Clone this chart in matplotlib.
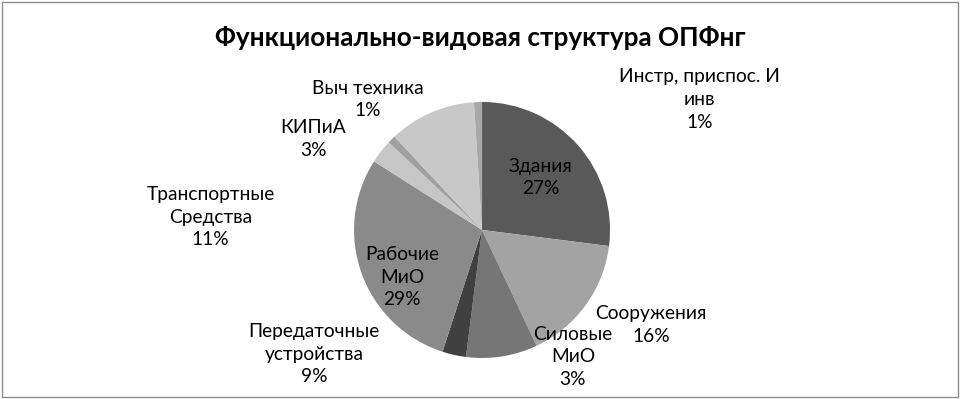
import numpy as np
import matplotlib.pyplot as plt
from matplotlib.patches import Rectangle

plt.rcParams['font.family'] = ['Lato', 'DejaVu Sans']

names = ['Здания', 'Сооружения', 'Передаточные\nустройства', 'Силовые\nМиО',
         'Рабочие\nМиО', 'КИПиА', 'Выч техника', 'Транспортные\nСредства',
         'Инстр, приспос. И\nинв']
values = [27, 16, 9, 3, 29, 3, 1, 11, 1]
colors = ['#595959', '#a3a3a3', '#767676', '#404040', '#8a8a8a',
          '#c6c6c6', '#a0a0a0', '#c8c8c8', '#a8a8a8']
# label anchor points, in pie radius units
label_xy = [(0.46, 0.41), (1.32, -0.74), (-1.31, -0.97), (0.71, -0.99),
            (-0.625, -0.37), (-1.32, 0.71), (-0.89, 1.02), (-2.12, 0.10),
            (1.70, 1.02)]

fig = plt.figure(figsize=(9.61, 3.99), dpi=100)
fig.patches.append(Rectangle((0.002, 0.004), 0.995, 0.99, transform=fig.transFigure,
                             fill=False, edgecolor='#8c8c8c', linewidth=1))
fig.text(0.5, 0.905, 'Функционально-видовая структура ОПФнг', ha='center', va='center',
         fontsize=18.8, fontweight='bold')

ax = fig.add_axes([0.3684, 0.1028, 0.2664, 0.6416])
ax.pie(values, colors=colors, startangle=90, counterclock=False, radius=1,
       wedgeprops=dict(linewidth=0))
ax.set_xlim(-1, 1)
ax.set_ylim(-1, 1)
ax.set_aspect('equal')
ax.axis('off')

total = sum(values)
for name, v, (x, y) in zip(names, values, label_xy):
    ax.text(x, y, '%s\n%d%%' % (name, round(100 * v / total)), ha='center', va='center',
            fontsize=13.8, linespacing=1.4, color='black', clip_on=False)

fig.savefig('out.png', dpi=100)
